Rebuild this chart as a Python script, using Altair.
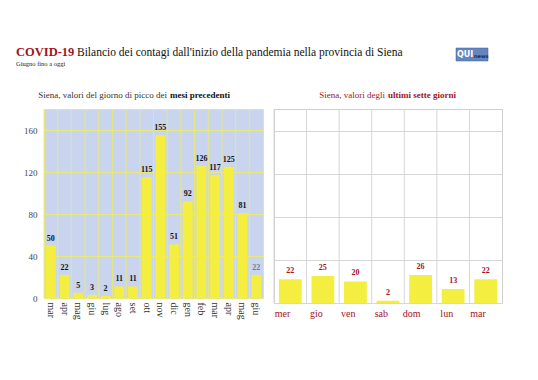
import altair as alt
import pandas as pd

FONT = "Liberation Serif"

# Left panel: peak-day values of previous months
months = ["mar", "apr", "mag", "giu", "lug", "ago", "set", "ott", "nov", "dic",
          "gen", "feb", "mar", "apr", "mag", "giu"]
years = ["2020", "2020", "2020", "2020", "2020", "2020", "2020", "2020", "2020", "2020",
         "2021", "2021", "2021", "2021", "2021", "2021"]
peak_values = [50, 22, 5, 3, 2, 11, 11, 115, 155, 51, 92, 126, 117, 125, 81, 22]

# Right panel: last seven days
days = ["mer", "gio", "ven", "sab", "dom", "lun", "mar"]
day_values = [22, 25, 20, 2, 26, 13, 22]

y_ticks = [0, 20, 40, 60, 80, 100, 120, 140, 160, 180]

# second-year labels get a trailing no-break space so repeated month names stay distinct
left_keys = [m if y == "2020" else m + "\u00a0" for m, y in zip(months, years)]
left_df = pd.DataFrame({"key": left_keys, "n": peak_values})
right_df = pd.DataFrame({"day": days, "n": day_values})
one = pd.DataFrame({"a": [0]})

DARK_RED = "#a3121b"
BAR_YELLOW = "#f3ee3f"
LEFT_GRID = "#e8e87c"
RIGHT_GRID = "#d6d6d6"

# ---------- header ----------
hbase = alt.Chart(one)
header = alt.layer(
    hbase.mark_text(text="COVID-19", font=FONT, fontSize=12.5, fontWeight="bold",
                    color=DARK_RED, align="left", baseline="alphabetic")
         .encode(x=alt.value(-28), y=alt.value(48)),
    hbase.mark_text(text="Bilancio dei contagi dall'inizio della pandemia nella provincia di Siena",
                    font=FONT, fontSize=11.5, color="#111", align="left", baseline="alphabetic")
         .encode(x=alt.value(33), y=alt.value(48)),
    hbase.mark_text(text="Giugno fino a oggi", font=FONT, fontSize=6.5, color="#222",
                    align="left", baseline="alphabetic")
         .encode(x=alt.value(-28), y=alt.value(58)),
    hbase.mark_rect(color="#6486c0", stroke="#3d5f95", strokeWidth=0.5)
         .encode(x=alt.value(412), x2=alt.value(444), y=alt.value(40), y2=alt.value(53)),
    hbase.mark_text(text="QUI", font="DejaVu Sans", fontSize=8, fontWeight="bold",
                    color="white", align="left", baseline="middle")
         .encode(x=alt.value(413), y=alt.value(47)),
    hbase.mark_text(text="news", font="DejaVu Sans", fontSize=5, fontWeight="bold",
                    color="#1c2f55", align="left", baseline="middle")
         .encode(x=alt.value(430), y=alt.value(47.5)),
).properties(width=470, height=62, view=alt.ViewBackground(stroke=None))

# ---------- left panel ----------
LW, LH = 219, 189
lbase = alt.Chart(left_df)
xl = alt.X("key:N", sort=None, title=None,
           scale=alt.Scale(paddingInner=0.27, paddingOuter=0.135),
           axis=alt.Axis(labelAngle=90, labelAlign="left", labelBaseline="middle",
                         labelFont=FONT, labelFontSize=10, labelColor="#333",
                         ticks=False, domain=False, grid=False, labelPadding=4))
yl = alt.Y("n:Q", title=None,
           scale=alt.Scale(domain=[0, 180]),
           axis=alt.Axis(values=y_ticks, labelFont=FONT, labelFontSize=9,
                         labelColor="#444", ticks=False, domain=False, grid=True,
                         gridColor=LEFT_GRID, labelPadding=7, minExtent=28))
left_vgrid = lbase.mark_rule(color=LEFT_GRID, xOffset=-LW / 32).encode(
    x=alt.X("key:N", sort=None))
left_bars = lbase.mark_bar(color=BAR_YELLOW).encode(x=xl, y=yl)
left_labels = lbase.mark_text(font=FONT, fontSize=8, fontWeight="bold",
                              baseline="bottom", dy=-3).encode(
    x=alt.X("key:N", sort=None),
    y="n:Q",
    text="n:Q",
    color=alt.condition(alt.datum.key == left_keys[-1], alt.value("#6a7d99"), alt.value("#111")),
)
tb = alt.Chart(one)
left_t1 = tb.mark_text(text="Siena, valori del giorno di picco dei", font=FONT, fontSize=9,
                       color="#333", align="right", baseline="alphabetic").encode(
    x=alt.value(123), y=alt.value(-11))
left_t2 = tb.mark_text(text="mesi precedenti", font=FONT, fontSize=9, fontWeight="bold",
                       color="#111", align="left", baseline="alphabetic").encode(
    x=alt.value(126), y=alt.value(-11))
left = alt.layer(left_vgrid, left_bars, left_labels, left_t1, left_t2).properties(
    width=LW, height=LH, view=alt.ViewBackground(fill="#c9d5ee", stroke=LEFT_GRID))

# ---------- right panel ----------
RW, RH = 228, 194
rbase = alt.Chart(right_df)
xr = alt.X("day:N", sort=None, title=None,
           scale=alt.Scale(paddingInner=0.3, paddingOuter=0.15),
           axis=alt.Axis(labelAngle=0, labelFont=FONT, labelFontSize=10, labelColor=DARK_RED,
                         ticks=False, domain=False, grid=False, labelPadding=10))
yr = alt.Y("n:Q", title=None, scale=alt.Scale(domain=[0, 180]),
           axis=alt.Axis(values=y_ticks, labels=False, ticks=False, domain=False,
                         grid=True, gridColor=RIGHT_GRID, minExtent=0))
right_vgrid = rbase.mark_rule(color=RIGHT_GRID, xOffset=-RW / 14).encode(
    x=alt.X("day:N", sort=None))
right_bars = rbase.mark_bar(color=BAR_YELLOW).encode(x=xr, y=yr)
right_labels = rbase.mark_text(font=FONT, fontSize=8, fontWeight="bold", color=DARK_RED,
                               baseline="bottom", dy=-4).encode(
    x=alt.X("day:N", sort=None), y="n:Q", text="n:Q")
right_t1 = tb.mark_text(text="Siena, valori degli", font=FONT, fontSize=9,
                        color=DARK_RED, align="right", baseline="alphabetic").encode(
    x=alt.value(111), y=alt.value(-11))
right_t2 = tb.mark_text(text="ultimi sette giorni", font=FONT, fontSize=9, fontWeight="bold",
                        color=DARK_RED, align="left", baseline="alphabetic").encode(
    x=alt.value(114), y=alt.value(-11))
right = alt.layer(right_vgrid, right_bars, right_labels, right_t1, right_t2).properties(
    width=RW, height=RH, view=alt.ViewBackground(fill="white", stroke="#cfcfcf"))

chart = alt.vconcat(
    header,
    alt.hconcat(left, right, spacing=9),
    spacing=20,
).properties(
    padding={"left": 7, "top": 0, "right": 0, "bottom": 0},
    background="white",
)

chart.save("out.html", embed_options={"renderer": "svg", "actions": False})
